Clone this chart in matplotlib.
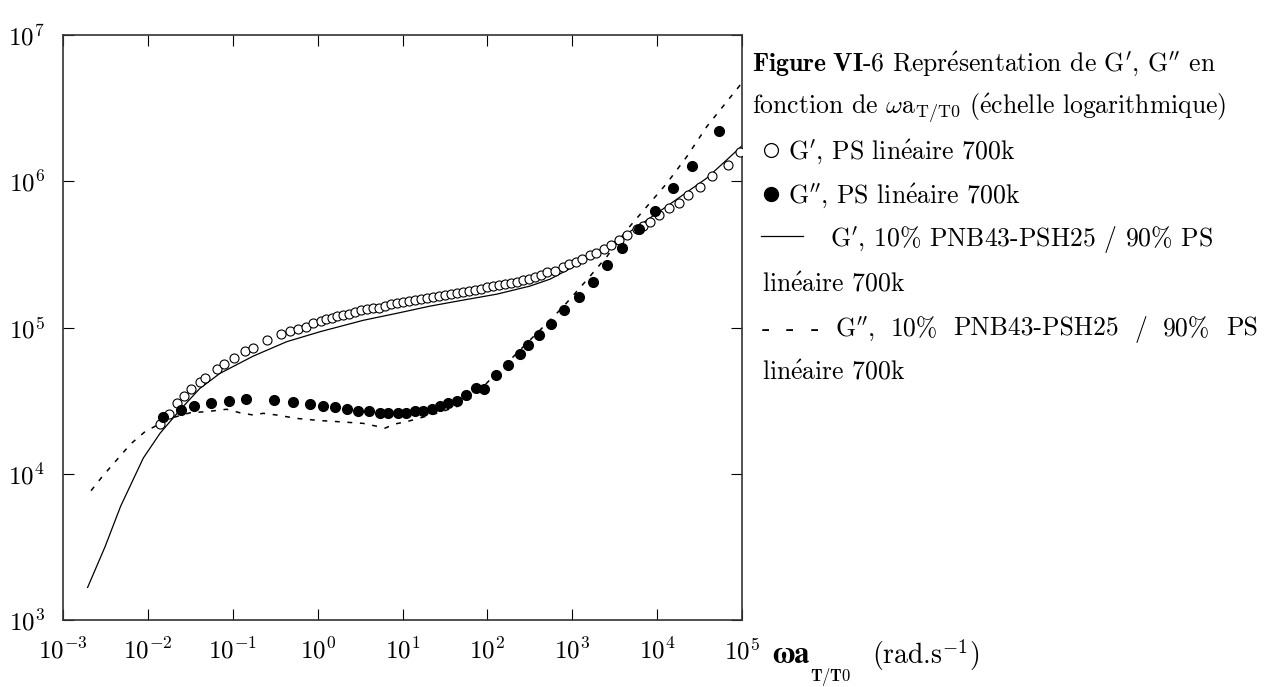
import matplotlib
matplotlib.use("Agg")
import matplotlib.pyplot as plt
from matplotlib.lines import Line2D
from matplotlib.ticker import NullLocator

plt.rcParams["font.family"] = ["cmr10", "DejaVu Serif"]
plt.rcParams["mathtext.fontset"] = "cm"
plt.rcParams["axes.formatter.use_mathtext"] = True
plt.rcParams["axes.unicode_minus"] = False

# G' PS lineaire 700k (cercles vides)
gp_ps_w = [0.0139, 0.0177, 0.0222, 0.0269, 0.0320, 0.0411, 0.0475, 0.0647, 0.0794, 0.103,
           0.141, 0.172, 0.255, 0.371, 0.473, 0.582, 0.730, 0.889, 1.10, 1.26, 1.47, 1.71,
           1.99, 2.34, 2.76, 3.24, 3.82, 4.49, 5.29, 6.22, 7.32, 8.61, 10.1, 11.9, 14.0, 16.5,
           19.4, 22.9, 26.9, 31.7, 37.3, 43.9, 51.6, 60.8, 71.5, 84.1, 99.0, 116, 137, 161,
           190, 223, 263, 309, 364, 428,
           508, 627, 771, 923, 1100, 1300, 1620, 1890, 2370, 2840, 3520, 4450, 5740, 6870,
           8240, 10600, 13900, 17900, 23300, 32000, 44700, 67900, 95500]
gp_ps = [2.19e4, 2.56e4, 3.05e4, 3.40e4, 3.78e4, 4.24e4, 4.54e4, 5.23e4, 5.62e4, 6.15e4,
         6.90e4, 7.24e4, 8.17e4, 8.98e4, 9.46e4, 9.81e4, 1.01e5, 1.07e5, 1.11e5, 1.14e5, 1.17e5, 1.20e5,
         1.21e5, 1.24e5, 1.27e5, 1.31e5, 1.33e5, 1.35e5, 1.37e5, 1.41e5, 1.44e5, 1.48e5, 1.50e5,
         1.52e5, 1.55e5, 1.57e5, 1.59e5, 1.61e5, 1.64e5, 1.66e5, 1.69e5, 1.72e5, 1.75e5, 1.78e5,
         1.81e5, 1.84e5, 1.88e5, 1.91e5, 1.94e5, 1.98e5, 2.01e5, 2.06e5, 2.11e5, 2.16e5, 2.22e5, 2.28e5,
         2.38e5, 2.45e5, 2.58e5, 2.71e5, 2.80e5, 2.95e5, 3.13e5, 3.21e5, 3.44e5, 3.66e5, 3.95e5,
         4.31e5, 4.72e5, 4.97e5, 5.24e5, 5.85e5, 6.59e5, 7.13e5, 8.02e5, 9.18e5, 1.09e6, 1.30e6, 1.59e6]

# G'' PS lineaire 700k (cercles pleins)
gpp_ps_w = [0.0150, 0.0244, 0.0349, 0.0550, 0.0895, 0.145, 0.303, 0.508, 0.807, 1.17,
            1.59, 2.24, 2.99, 4.06, 5.43, 6.81, 8.93, 11.0, 14.2, 17.6,
            22.1, 27.7, 34.7, 43.5, 56.0, 73.5, 92.0, 126, 175, 242,
            301, 409, 562, 805, 1210, 1740, 2590, 3850, 6070, 9440,
            15200, 26000, 53600]
gpp_ps = [2.43e4, 2.72e4, 2.90e4, 3.05e4, 3.14e4, 3.26e4, 3.18e4, 3.10e4, 3.00e4, 2.90e4,
          2.85e4, 2.79e4, 2.70e4, 2.67e4, 2.61e4, 2.61e4, 2.61e4, 2.61e4, 2.67e4, 2.70e4,
          2.79e4, 2.90e4, 3.05e4, 3.16e4, 3.47e4, 3.84e4, 3.82e4, 4.75e4, 5.52e4, 6.56e4,
          7.59e4, 8.85e4, 1.06e5, 1.32e5, 1.62e5, 2.06e5, 2.68e5, 3.51e5, 4.72e5, 6.29e5,
          9.04e5, 1.28e6, 2.22e6]

# G' 10% PNB43-PSH25 / 90% PS (trait plein)
gp_mix_w = [0.00195, 0.00313, 0.00479, 0.00883, 0.0139, 0.0239, 0.0411, 0.0708, 0.175, 0.433,
            1.07, 3.45, 8.55, 21.1, 52.0, 129, 318, 547, 1030, 2550, 6280, 15500, 38400, 66100, 99100]
gp_mix = [1.67e3, 3.17e3, 6.02e3, 1.28e4, 1.89e4, 2.73e4, 3.84e4, 4.86e4, 6.38e4, 8.00e4,
          9.36e4, 1.12e5, 1.25e5, 1.40e5, 1.54e5, 1.69e5, 1.92e5, 2.14e5, 2.60e5, 3.56e5,
          5.02e5, 7.24e5, 1.05e6, 1.40e6, 1.74e6]

# G'' 10% PNB43-PSH25 / 90% PS (tirets)
gpp_mix_w = [0.00214, 0.00294, 0.00418, 0.00628, 0.00925, 0.0182, 0.0313, 0.0493, 0.0849, 0.122,
             0.175, 0.229, 0.330, 0.566, 1.07, 1.75, 3.45, 5.20, 6.22, 8.17, 11.2,
             25.3, 43.5, 68.2, 107, 169, 265, 456, 785, 1480, 2550,
             4380, 7540, 13000, 22300, 38400, 66100, 99100]
gpp_mix = [7.66e3, 9.66e3, 1.22e4, 1.60e4, 1.94e4, 2.39e4, 2.61e4, 2.66e4, 2.76e4, 2.61e4,
           2.52e4, 2.59e4, 2.52e4, 2.39e4, 2.31e4, 2.27e4, 2.21e4, 2.10e4, 2.05e4, 2.19e4, 2.27e4,
           2.59e4, 2.87e4, 3.37e4, 4.38e4, 5.69e4, 7.39e4, 1.01e5, 1.39e5, 2.11e5, 3.05e5,
           4.64e5, 6.70e5, 9.68e5, 1.47e6, 2.36e6, 3.50e6, 4.68e6]

x_decades = [-3, -2, -1, 0, 1, 2, 3, 4, 5]
y_decades = [3, 4, 5, 6, 7]

W, H = 1278, 687
FS = 18.5


def fx(px):
    return px / W


def fy(py):
    return 1 - py / H


fig = plt.figure(figsize=(W / 100, H / 100), dpi=100)
ax = fig.add_axes([fx(63), fy(620), fx(742) - fx(63), fy(35) - fy(620)])
ax.set_xscale("log")
ax.set_yscale("log")

ax.plot(gp_mix_w, gp_mix, color="black", lw=0.9, zorder=2)
ax.plot(gpp_mix_w, gpp_mix, color="black", lw=1.1, linestyle=(0, (3.2, 5)), zorder=2)
ax.plot(gp_ps_w, gp_ps, linestyle="none", marker="o", ms=6.5, mfc="white", mec="black", mew=0.8, zorder=3)
ax.plot(gpp_ps_w, gpp_ps, linestyle="none", marker="o", ms=7, color="black", zorder=3)

ax.set_xlim(10.0 ** x_decades[0], 10.0 ** x_decades[-1])
ax.set_ylim(10.0 ** y_decades[0], 10.0 ** y_decades[-1])
ax.set_xticks([10.0 ** k for k in x_decades])
ax.set_xticklabels([rf"$10^{{{k}}}$" for k in x_decades])
ax.set_yticks([10.0 ** k for k in y_decades])
ax.set_yticklabels([rf"$10^{{{k}}}$" for k in y_decades])
ax.xaxis.set_minor_locator(NullLocator())
ax.yaxis.set_minor_locator(NullLocator())
ax.tick_params(which="major", direction="in", length=8, width=0.8, top=True, right=True,
               labelsize=18)
ax.tick_params(axis="x", pad=13)
ax.tick_params(axis="y", pad=13)
for s in ax.spines.values():
    s.set_linewidth(1.2)
    s.set_color("#333333")

# titre de l'axe x
fig.text(fx(772), fy(663), "ωa", family="STIXGeneral", fontweight="bold", fontsize=22,
         ha="left", va="baseline")
fig.text(fx(810), fy(681), r"$\mathbf{T/T0}$", fontsize=12, ha="left", va="baseline")
fig.text(fx(872), fy(664), r"(rad.s$^{-1}$)", fontsize=20, ha="left", va="baseline")

# legende de figure
E = r"$\mathrm{\acute{e}}$"
X0 = 752
rows = [
    (71, X0, r"$\mathbf{Figure\ VI}$-$\mathbf{6}$ Repr" + E + r"sentation de G$'$, G$''$ en"),
    (115, X0, r"fonction de $\omega\mathrm{a}_{\mathrm{T/T0}}$ (" + E + "chelle logarithmique)"),
    (159, 788, r"G$'$, PS lin" + E + "aire 700k"),
    (203, 788, r"G$''$, PS lin" + E + "aire 700k"),
    (247, 830, r"G$'$, 10% PNB43-PSH25 / 90% PS"),
    (292, 762, "lin" + E + "aire 700k"),
    (380, 762, "lin" + E + "aire 700k"),
]
for yb, xl, txt in rows:
    fig.text(fx(xl), fy(yb), txt, fontsize=FS, ha="left", va="baseline")

fig.add_artist(Line2D([fx(771)], [fy(150)], marker="o", ms=10, mfc="white", mec="black",
                      mew=0.9, transform=fig.transFigure))
fig.add_artist(Line2D([fx(771)], [fy(194)], marker="o", ms=10, color="black",
                      transform=fig.transFigure))
fig.add_artist(Line2D([fx(761), fx(803)], [fy(236), fy(236)], color="black", lw=0.9,
                      transform=fig.transFigure))

# ligne justifiee
tokens = ["-", "-", "-", r"G$''$,", "10%", "PNB43-PSH25", "/", "90%", "PS"]
renderer = fig.canvas.get_renderer()
arts = [fig.text(0, fy(336), t, fontsize=FS, ha="left", va="baseline") for t in tokens]
widths = [a.get_window_extent(renderer).width for a in arts]
x_start, x_end = 762, 1258
gap = (x_end - x_start - sum(widths)) / (len(tokens) - 1)
xc = x_start
for a, w in zip(arts, widths):
    a.set_x(fx(xc))
    xc += w + gap

fig.savefig("out.png", dpi=100)
